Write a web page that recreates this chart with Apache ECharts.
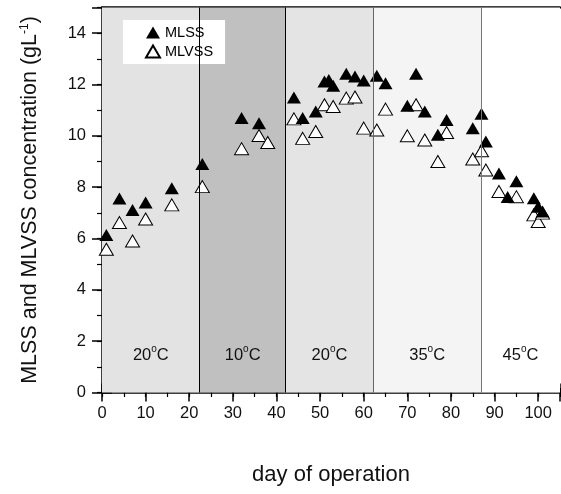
<!DOCTYPE html>
<html>
<head>
<meta charset="utf-8">
<script src="https://cdn.jsdelivr.net/npm/echarts@6/dist/echarts.min.js"></script>
<style>
  html, body { margin: 0; padding: 0; background: #fff; }
  #chart { width: 561px; height: 494px; }
</style>
</head>
<body>
<div id="chart"></div>
<script>
// MLSS / MLVSS readings, day of operation -> g/L
const mlssDays = [1, 4, 7, 10, 16, 23, 32, 36, 44, 46, 49, 51, 52, 53, 56, 58, 60, 63, 65, 70, 72, 74, 77, 79, 85, 87, 88, 91, 93, 95, 99, 100, 101]
const mlssValues = [6.14, 7.56, 7.11, 7.40, 7.96, 8.90, 10.69, 10.49, 11.49, 10.69, 10.95, 12.12, 12.18, 11.95, 12.42, 12.31, 12.16, 12.34, 12.05, 11.17, 12.42, 10.95, 10.04, 10.62, 10.30, 10.86, 9.78, 8.53, 7.62, 8.23, 7.57, 7.24, 7.05]

const mlvssDays = [1, 4, 7, 10, 16, 23, 32, 36, 38, 44, 46, 49, 51, 53, 56, 58, 60, 63, 65, 70, 72, 74, 77, 79, 85, 87, 88, 91, 95, 99, 100, 101]
const mlvssValues = [5.58, 6.62, 5.90, 6.76, 7.31, 8.02, 9.50, 10.01, 9.74, 10.66, 9.90, 10.17, 11.21, 11.14, 11.47, 11.51, 10.30, 10.23, 11.04, 10.00, 11.21, 9.84, 9.00, 10.13, 9.10, 9.42, 8.67, 7.83, 7.63, 6.92, 6.66, 6.99]

// temperature phases
const phaseEdges = [0, 22.4, 42.1, 62.2, 86.9, 105]
const phaseTemps = ['20', '10', '20', '35', '45']
const phaseColors = ['#e3e3e3', '#c0c0c0', '#e4e4e4', '#f4f4f4', '#ffffff']
const edgeColors = ['#000', '#000', '#666', '#777']

const FONT = "'Liberation Sans', Arial, sans-serif"

function pairs(xs, ys) {
  return xs.map((x, i) => [x, ys[i]])
}

const areas = phaseTemps.map((t, i) => [
  {
    xAxis: phaseEdges[i],
    itemStyle: { color: phaseColors[i] },
    label: { formatter: '{t|' + t + '}{s|o}{t|C}' }
  },
  { xAxis: phaseEdges[i + 1] }
])

const edges = edgeColors.map((c, i) => ({
  xAxis: phaseEdges[i + 1],
  lineStyle: { color: c, width: 1, type: 'solid' }
}))

const chart = echarts.init(document.getElementById('chart'))

const xBase = { type: 'value', min: 0, max: 105, interval: 10, splitLine: { show: false } }
const yBase = { type: 'value', min: 0, max: 15, interval: 2, splitLine: { show: false } }
const black = { color: '#000', width: 1.5 }

chart.setOption({
  animation: false,
  textStyle: { fontFamily: FONT },
  grid: { left: 102, right: 1, top: 7.5, bottom: 101.5 },
  legend: {
    data: ['MLSS', 'MLVSS'],
    orient: 'vertical',
    left: 123,
    top: 20,
    backgroundColor: '#fff',
    padding: [5, 12, 5, 22],
    itemWidth: 14,
    itemHeight: 12,
    itemGap: 4,
    itemTextGap: 13,
    textStyle: { fontSize: 14.5, color: '#000', fontFamily: FONT }
  },
  xAxis: [
    Object.assign({}, xBase, {
      position: 'bottom',
      axisLine: { lineStyle: black },
      axisTick: { show: false },
      axisLabel: { fontSize: 16.5, color: '#111', margin: 12, showMaxLabel: false },
      name: 'day of operation',
      nameLocation: 'middle',
      nameGap: 71,
      nameTextStyle: { fontSize: 22, color: '#111', fontFamily: FONT }
    }),
    Object.assign({}, xBase, {
      position: 'bottom', offset: -9,
      axisLine: { show: false },
      axisTick: { length: 18, lineStyle: black },
      axisLabel: { show: false }
    }),
    Object.assign({}, xBase, {
      position: 'bottom', offset: -4.5, interval: 5,
      axisLine: { show: false },
      axisTick: { length: 9, lineStyle: { color: '#000', width: 1.2 } },
      axisLabel: { show: false }
    }),
    Object.assign({}, xBase, {
      position: 'top',
      axisLine: { lineStyle: { color: '#000', width: 2.5 } },
      axisTick: { show: false },
      axisLabel: { show: false }
    })
  ],
  yAxis: [
    Object.assign({}, yBase, {
      position: 'left',
      axisLine: { lineStyle: black },
      axisTick: { show: false },
      axisLabel: { fontSize: 16.5, color: '#111', margin: 16, showMaxLabel: false },
      name: 'MLSS and MLVSS concentration (gL{sup|-1})',
      nameLocation: 'middle',
      nameGap: 61,
      nameTextStyle: {
        fontSize: 21.5, color: '#111', fontFamily: FONT,
        rich: { sup: { fontSize: 12, verticalAlign: 'top', fontFamily: FONT, color: '#111' } }
      }
    }),
    Object.assign({}, yBase, {
      position: 'left', offset: -10,
      axisLine: { show: false },
      axisTick: { length: 20, lineStyle: black },
      axisLabel: { show: false }
    }),
    Object.assign({}, yBase, {
      position: 'left', offset: -5, interval: 1,
      axisLine: { show: false },
      axisTick: { length: 10, lineStyle: { color: '#000', width: 1.2 } },
      axisLabel: { show: false }
    })
  ],
  series: [
    {
      name: 'phases',
      type: 'line',
      data: [],
      z: 1,
      silent: true,
      markArea: {
        silent: true,
        label: {
          position: 'insideBottom',
          distance: 26.5,
          color: '#111',
          rich: {
            t: { fontSize: 16.5, lineHeight: 22, color: '#111', fontFamily: FONT },
            s: { fontSize: 10, lineHeight: 10, verticalAlign: 'top', color: '#111', fontFamily: FONT }
          }
        },
        data: areas
      },
      markLine: {
        silent: true,
        symbol: 'none',
        label: { show: false },
        data: edges
      }
    },
    {
      name: 'MLVSS',
      type: 'scatter',
      z: 3,
      symbol: 'triangle',
      symbolSize: [14, 12],
      itemStyle: { color: '#fff', borderColor: '#000', borderWidth: 1, opacity: 1 },
      data: pairs(mlvssDays, mlvssValues)
    },
    {
      name: 'MLSS',
      type: 'scatter',
      z: 4,
      symbol: 'triangle',
      symbolSize: [14, 12],
      itemStyle: { color: '#000', opacity: 1 },
      data: pairs(mlssDays, mlssValues)
    }
  ]
})
</script>
</body>
</html>
